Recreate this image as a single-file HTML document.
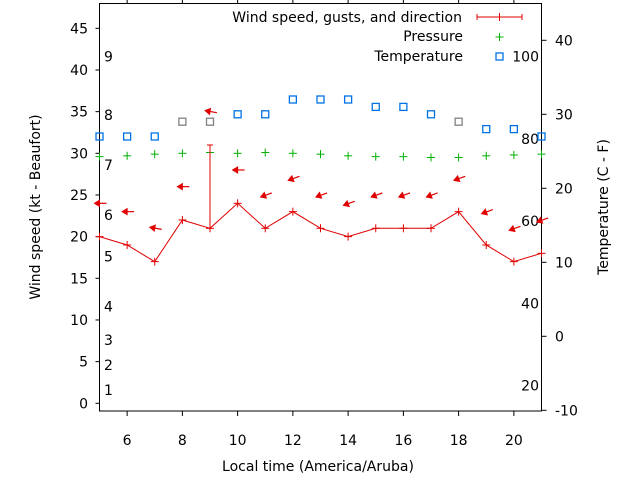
<!DOCTYPE html>
<html><head><meta charset="utf-8"><style>
html,body{margin:0;padding:0;background:#fff;}
svg{display:block;font-family:"DejaVu Sans","Liberation Sans",sans-serif;}
</style></head><body>
<svg id="chart" width="640" height="480" viewBox="0 0 640 480" xmlns="http://www.w3.org/2000/svg"></svg>
<script>
const hours = [5,6,7,8,9,10,11,12,13,14,15,16,17,18,19,20,21];
const windSpeed = [20,19,17,22,21,24,21,23,21,20,21,21,21,23,19,17,18];
const gustHours = [9];
const gustValues = [31];
const arrowSpeed = [24,23,21,26,35,28,25,27,25,24,25,25,25,27,23,21,22];
const windDir = [90,90,100,90,100,90,70,70,70,70,70,70,70,70,70,70,70];
const pressure = [29.6,29.7,29.9,30.0,30.1,30.0,30.1,30.0,29.9,29.7,29.6,29.6,29.5,29.5,29.7,29.8,29.9];
const tempC = [27,27,27,29,29,30,30,32,32,32,31,31,30,29,28,28,27];
const tempGray = [8,9,18];
const xTicks = [6,8,10,12,14,16,18,20];
const leftTicks = [0,5,10,15,20,25,30,35,40,45];
const rightTicks = [-10,0,10,20,30,40];
const fTicks = [20,40,60,80,100];
const beaufortNums = [1,2,3,4,5,6,7,8,9];
const beaufortKt = [1,4,7,11,17,22,28,34,41];

const L=99.5,R=541.5,T=3.5,B=411;
const xS=h=>L+(h-5)*(R-L)/16;
const yL=v=>403.3-v*8.333;
const yR=c=>336.3-c*7.4;
const svg=document.getElementById('chart');
const NS='http://www.w3.org/2000/svg';
function mk(tag,attrs,parent){const e=document.createElementNS(NS,tag);for(const k in attrs)e.setAttribute(k,attrs[k]);(parent||svg).appendChild(e);return e;}
function txt(x,y,s,anchor,name,extra){const t=mk('text',Object.assign({x:x,y:y,'font-size':14,fill:'#000','text-anchor':anchor||'start'},extra||{}));t.textContent=s;return t;}

const fr=mk('rect',{x:L,y:T,width:R-L,height:B-T,fill:'none',stroke:'#000','stroke-width':1});



xTicks.forEach(h=>{
  const x=xS(h);
  const t1=mk('line',{x1:x,y1:B,x2:x,y2:B+5,stroke:'#000'});
  
  
  const t2=mk('line',{x1:x,y1:T,x2:x,y2:T-4,stroke:'#000'});
  
  
  txt(x,445,String(h),'middle','x-tick-label');
});
leftTicks.forEach(v=>{
  const y=yL(v);
  const t=mk('line',{x1:L,y1:y,x2:L-4,y2:y,stroke:'#000'});
  
  
  txt(88,y+5,String(v),'end','left-tick-label');
});
rightTicks.forEach(c=>{
  const y=yR(c);
  const t=mk('line',{x1:R,y1:y,x2:R+5,y2:y,stroke:'#000'});
  
  
  txt(555,y+5,String(c),'start','right-tick-label');
});
fTicks.forEach(f=>{
  txt(539,yR((f-32)*5/9)+5,String(f),'end','fahrenheit-label');
});
beaufortNums.forEach((n,i)=>{
  txt(104,yL(beaufortKt[i]),String(n),'start','beaufort-label');
});

txt(318,471,'Local time (America/Aruba)','middle','x-axis-title');
txt(0,0,'Wind speed (kt - Beaufort)','middle','left-axis-title',{transform:'translate(40,207) rotate(-90)'});
txt(0,0,'Temperature (C - F)','middle','right-axis-title',{transform:'translate(608,207) rotate(-90)'});

function plus(x,y,color,s,name){
  const g=mk('g',{stroke:color,'stroke-width':1});
  
  
  mk('line',{x1:x-s,y1:y,x2:x+s,y2:y},g);mk('line',{x1:x,y1:y-s,x2:x,y2:y+s},g);
  return g;
}

hours.forEach((h,i)=>{
  const gray=tempGray.indexOf(h)>=0;
  const r=mk('rect',{x:xS(h)-3.5,y:yR(tempC[i])-3.5,width:7,height:7,fill:'none',stroke:gray?'#808080':'#0072e6','stroke-width':1.3});
  
  
});
hours.forEach((h,i)=>{plus(xS(h),yL(pressure[i]),'#00b000',4,'pressure-point');});
const pl=mk('polyline',{points:hours.map((h,i)=>xS(h)+','+yL(windSpeed[i])).join(' '),fill:'none',stroke:'#e00000','stroke-width':1});


hours.forEach((h,i)=>{plus(xS(h),yL(windSpeed[i]),'#e00000',4,'wind-speed-point');});
gustHours.forEach((h,j)=>{
  const i=hours.indexOf(h);
  const g=mk('g',{stroke:'#e00000','stroke-width':1});
  
  
  mk('line',{x1:xS(h),y1:yL(windSpeed[i]),x2:xS(h),y2:yL(gustValues[j])},g);
  mk('line',{x1:xS(h)-3,y1:yL(gustValues[j]),x2:xS(h)+3,y2:yL(gustValues[j])},g);
});
hours.forEach((h,i)=>{
  const cx=xS(h)+1,cy=yL(arrowSpeed[i]);
  const a=(windDir[i]-90)*Math.PI/180;
  const dx=Math.cos(a),dy=-Math.sin(a);
  const hx=cx-6*dx,hy=cy+6*dy,tx=cx+6*dx,ty=cy-6*dy;
  const g=mk('g',{stroke:'#e00000',fill:'#e00000','stroke-width':1.2});
  
  
  mk('line',{x1:hx,y1:hy,x2:tx,y2:ty},g);
  const px=-dy,py=-dx;
  mk('polygon',{points:[hx,hy,hx+5*dx+3*px,hy-5*dy+3*py,hx+5*dx-3*px,hy-5*dy-3*py].join(','),'stroke-width':1},g);
});

txt(462,22,'Wind speed, gusts, and direction','end','legend-wind-label');
const lg=mk('g',{stroke:'#e00000','stroke-width':1});


mk('line',{x1:477,y1:17,x2:522,y2:17},lg);
mk('line',{x1:477,y1:14,x2:477,y2:20},lg);
mk('line',{x1:522,y1:14,x2:522,y2:20},lg);
mk('line',{x1:499.5,y1:13,x2:499.5,y2:21},lg);
txt(463,41,'Pressure','end','legend-pressure-label');
plus(499.5,37,'#00b000',4,'legend-pressure-sample');
txt(463,61,'Temperature','end','legend-temperature-label');
const ls=mk('rect',{x:496,y:53,width:7,height:7,fill:'none',stroke:'#0072e6','stroke-width':1.3});


</script>
</body></html>
